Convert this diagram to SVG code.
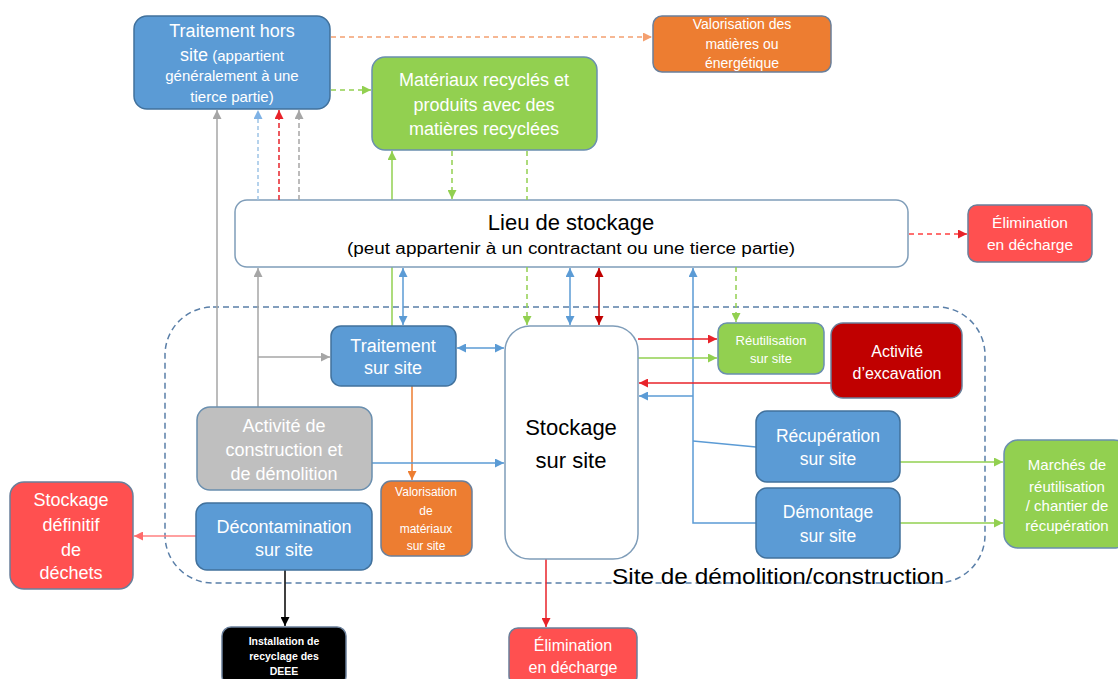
<svg xmlns="http://www.w3.org/2000/svg" width="1118" height="679" viewBox="0 0 1118 679">
<style>
text{font-family:"Liberation Sans","Open Sans",sans-serif;text-anchor:middle}
.w{fill:#fff}
.k{fill:#000}
.blue{fill:#5B9BD5;stroke:#41719C;stroke-width:1.5}
.green{fill:#92D050;stroke:#6A8FAF;stroke-width:1.5}
.orange{fill:#ED7D31;stroke:#6A7F9A;stroke-width:1.5}
.red{fill:#FF5050;stroke:#6A7F9A;stroke-width:1.5}
.dred{fill:#C00000;stroke:#6A7F9A;stroke-width:1.5}
.gray{fill:#BFBFBF;stroke:#6A8FAF;stroke-width:1.5}
.white{fill:#fff;stroke:#7F9DB9;stroke-width:1.5}
.blk{fill:#000;stroke:#6A7F9A;stroke-width:1.5}
.c{fill:none;stroke-width:1.5}
</style>
<defs>
<marker id="aBlue" viewBox="0 0 10 10" refX="10" refY="5" markerWidth="9" markerHeight="9" markerUnits="userSpaceOnUse" orient="auto-start-reverse"><path d="M0,0L10,5L0,10z" fill="#5B9BD5"/></marker>
<marker id="aLBlue" viewBox="0 0 10 10" refX="10" refY="5" markerWidth="9" markerHeight="9" markerUnits="userSpaceOnUse" orient="auto-start-reverse"><path d="M0,0L10,5L0,10z" fill="#7FB2E5"/></marker>
<marker id="aGreen" viewBox="0 0 10 10" refX="10" refY="5" markerWidth="9" markerHeight="9" markerUnits="userSpaceOnUse" orient="auto-start-reverse"><path d="M0,0L10,5L0,10z" fill="#92D050"/></marker>
<marker id="aRed" viewBox="0 0 10 10" refX="10" refY="5" markerWidth="9" markerHeight="9" markerUnits="userSpaceOnUse" orient="auto-start-reverse"><path d="M0,0L10,5L0,10z" fill="#E8232A"/></marker>
<marker id="aDRed" viewBox="0 0 10 10" refX="10" refY="5" markerWidth="9" markerHeight="9" markerUnits="userSpaceOnUse" orient="auto-start-reverse"><path d="M0,0L10,5L0,10z" fill="#C00000"/></marker>
<marker id="aPink" viewBox="0 0 10 10" refX="10" refY="5" markerWidth="9" markerHeight="9" markerUnits="userSpaceOnUse" orient="auto-start-reverse"><path d="M0,0L10,5L0,10z" fill="#FF6B6B"/></marker>
<marker id="aGray" viewBox="0 0 10 10" refX="10" refY="5" markerWidth="9" markerHeight="9" markerUnits="userSpaceOnUse" orient="auto-start-reverse"><path d="M0,0L10,5L0,10z" fill="#A6A6A6"/></marker>
<marker id="aOrange" viewBox="0 0 10 10" refX="10" refY="5" markerWidth="9" markerHeight="9" markerUnits="userSpaceOnUse" orient="auto-start-reverse"><path d="M0,0L10,5L0,10z" fill="#F4A070"/></marker>
<marker id="aOrange2" viewBox="0 0 10 10" refX="10" refY="5" markerWidth="9" markerHeight="9" markerUnits="userSpaceOnUse" orient="auto-start-reverse"><path d="M0,0L10,5L0,10z" fill="#ED7D31"/></marker>
<marker id="aBlack" viewBox="0 0 10 10" refX="10" refY="5" markerWidth="9" markerHeight="9" markerUnits="userSpaceOnUse" orient="auto-start-reverse"><path d="M0,0L10,5L0,10z" fill="#000"/></marker>
</defs>
<rect width="1118" height="679" fill="#fff"/>

<g id="site-boundary">
<rect x="165" y="307" width="820" height="276" rx="48" fill="none" stroke="#5A7FA8" stroke-width="1.5" stroke-dasharray="6 4"/>
<text x="612" y="584" font-size="22" class="k" style="text-anchor:start" textLength="332" lengthAdjust="spacingAndGlyphs">Site de démolition/construction</text>
</g>

<g id="connectors-under">
<line class="c" x1="392" y1="326" x2="392" y2="151" stroke="#92D050" marker-end="url(#aGreen)"/>
</g>

<g id="lieu-stockage">
<rect class="white" x="235" y="200" width="673" height="67" rx="12"/>
<text x="571" y="230" font-size="22" class="k">Lieu de stockage</text>
<text x="571" y="254" font-size="16" class="k" textLength="448" lengthAdjust="spacingAndGlyphs">(peut appartenir à un contractant ou une tierce partie)</text>
</g>

<g id="connectors">
<line class="c" x1="331" y1="37" x2="652" y2="37" stroke="#F4A070" stroke-dasharray="5 4" marker-end="url(#aOrange)"/>
<line class="c" x1="331" y1="90" x2="371" y2="90" stroke="#92D050" stroke-dasharray="5 4" marker-end="url(#aGreen)"/>
<line class="c" x1="217" y1="407" x2="217" y2="110" stroke="#A6A6A6" marker-end="url(#aGray)"/>
<line class="c" x1="258" y1="200" x2="258" y2="110" stroke="#9DC3E6" stroke-dasharray="4 3" marker-end="url(#aLBlue)"/>
<line class="c" x1="279" y1="200" x2="279" y2="110" stroke="#E8232A" stroke-dasharray="5 3" marker-end="url(#aRed)"/>
<line class="c" x1="299" y1="200" x2="299" y2="110" stroke="#A6A6A6" stroke-dasharray="5 3" marker-end="url(#aGray)"/>
<line class="c" x1="452" y1="151" x2="452" y2="199" stroke="#92D050" stroke-dasharray="5 4" marker-end="url(#aGreen)"/>
<line class="c" x1="527" y1="151" x2="527" y2="200" stroke="#92D050" stroke-dasharray="5 4"/>
<line class="c" x1="527" y1="267" x2="527" y2="325" stroke="#92D050" stroke-dasharray="5 4" marker-end="url(#aGreen)"/>
<line class="c" x1="909" y1="234" x2="967" y2="234" stroke="#FF4040" stroke-dasharray="5 4" marker-end="url(#aRed)"/>
<line class="c" x1="258" y1="407" x2="258" y2="268" stroke="#A6A6A6" marker-end="url(#aGray)"/>
<line class="c" x1="258" y1="357" x2="330" y2="357" stroke="#A6A6A6" marker-end="url(#aGray)"/>
<line class="c" x1="403" y1="268" x2="403" y2="325" stroke="#5B9BD5" marker-start="url(#aBlue)" marker-end="url(#aBlue)"/>
<line class="c" x1="570" y1="268" x2="570" y2="325" stroke="#5B9BD5" marker-start="url(#aBlue)" marker-end="url(#aBlue)"/>
<line class="c" x1="599" y1="268" x2="599" y2="325" stroke="#C00000" marker-start="url(#aDRed)" marker-end="url(#aDRed)"/>
<line class="c" x1="736" y1="267" x2="736" y2="322" stroke="#92D050" stroke-dasharray="5 4" marker-end="url(#aGreen)"/>
<path class="c" d="M756,523 L693,523 L693,268" stroke="#5B9BD5" marker-end="url(#aBlue)"/>
<line class="c" x1="693" y1="396" x2="639" y2="396" stroke="#5B9BD5" marker-end="url(#aBlue)"/>
<line class="c" x1="693" y1="441" x2="756" y2="447" stroke="#5B9BD5"/>
<line class="c" x1="638" y1="339" x2="717" y2="339" stroke="#E8232A" marker-end="url(#aRed)"/>
<line class="c" x1="638" y1="358" x2="717" y2="358" stroke="#92D050" marker-end="url(#aGreen)"/>
<line class="c" x1="831" y1="383" x2="639" y2="383" stroke="#E8232A" marker-end="url(#aRed)"/>
<line class="c" x1="457" y1="348" x2="504" y2="348" stroke="#5B9BD5" marker-start="url(#aBlue)" marker-end="url(#aBlue)"/>
<line class="c" x1="412" y1="386" x2="412" y2="480" stroke="#ED7D31" marker-end="url(#aOrange2)"/>
<line class="c" x1="372" y1="463" x2="504" y2="463" stroke="#5B9BD5" marker-end="url(#aBlue)"/>
<line class="c" x1="196" y1="536" x2="134" y2="536" stroke="#FF8080" marker-end="url(#aPink)"/>
<line class="c" x1="285" y1="570" x2="285" y2="626" stroke="#000" marker-end="url(#aBlack)"/>
<line class="c" x1="546" y1="559" x2="546" y2="627" stroke="#E8232A" marker-end="url(#aRed)"/>
<line class="c" x1="900" y1="462" x2="1003" y2="462" stroke="#92D050" marker-end="url(#aGreen)"/>
<line class="c" x1="900" y1="523" x2="1003" y2="523" stroke="#92D050" marker-end="url(#aGreen)"/>
</g>

<g id="traitement-hors-site">
<rect class="blue" x="134" y="16" width="196" height="93" rx="13"/>
<text class="w" x="232" y="37" font-size="18">Traitement hors</text>
<text class="w" x="232" y="61" font-size="15"><tspan font-size="18">site</tspan> (appartient</text>
<text class="w" x="232" y="81" font-size="15">généralement à une</text>
<text class="w" x="232" y="102" font-size="15">tierce partie)</text>
</g>

<g id="valorisation-matieres">
<rect class="orange" x="653" y="16" width="178" height="56" rx="9"/>
<text class="w" x="742" y="29" font-size="14">Valorisation des</text>
<text class="w" x="742" y="49" font-size="14">matières ou</text>
<text class="w" x="742" y="68" font-size="14">énergétique</text>
</g>

<g id="materiaux-recycles">
<rect class="green" x="372" y="57" width="225" height="93" rx="13"/>
<text class="w" x="484" y="86" font-size="18">Matériaux recyclés et</text>
<text class="w" x="484" y="111" font-size="18">produits avec des</text>
<text class="w" x="484" y="135" font-size="18">matières recyclées</text>
</g>

<g id="elimination-haut">
<rect class="red" x="968" y="205" width="124" height="57" rx="9"/>
<text class="w" x="1030" y="228" font-size="15.5">Élimination</text>
<text class="w" x="1030" y="250" font-size="15.5">en décharge</text>
</g>

<g id="traitement-sur-site">
<rect class="blue" x="331" y="326" width="125" height="60" rx="10"/>
<text class="w" x="393" y="352" font-size="18">Traitement</text>
<text class="w" x="393" y="374" font-size="18">sur site</text>
</g>

<g id="stockage-sur-site">
<rect class="white" x="505" y="326" width="133" height="233" rx="25"/>
<text class="k" x="571" y="435" font-size="22">Stockage</text>
<text class="k" x="571" y="468" font-size="22">sur site</text>
</g>

<g id="reutilisation-sur-site">
<rect class="green" x="718" y="323" width="106" height="51" rx="9"/>
<text class="w" x="771" y="345" font-size="13">Réutilisation</text>
<text class="w" x="771" y="363" font-size="13">sur site</text>
</g>

<g id="activite-excavation">
<rect class="dred" x="831" y="323" width="131" height="75" rx="12"/>
<text class="w" x="897" y="357" font-size="16">Activité</text>
<text class="w" x="897" y="379" font-size="16">d’excavation</text>
</g>

<g id="activite-construction">
<rect class="gray" x="197" y="407" width="175" height="83" rx="13"/>
<text class="w" x="284" y="432" font-size="18">Activité de</text>
<text class="w" x="284" y="456" font-size="18">construction et</text>
<text class="w" x="284" y="480" font-size="18">de démolition</text>
</g>

<g id="recuperation-sur-site">
<rect class="blue" x="756" y="411" width="144" height="71" rx="11"/>
<text class="w" x="828" y="442" font-size="17.5">Récupération</text>
<text class="w" x="828" y="465" font-size="17.5">sur site</text>
</g>

<g id="demontage-sur-site">
<rect class="blue" x="756" y="488" width="144" height="70" rx="11"/>
<text class="w" x="828" y="518" font-size="17.5">Démontage</text>
<text class="w" x="828" y="542" font-size="17.5">sur site</text>
</g>

<g id="valorisation-materiaux-site">
<rect class="orange" x="381" y="481" width="91" height="75" rx="10"/>
<text class="w" x="426" y="496" font-size="12">Valorisation</text>
<text class="w" x="426" y="515" font-size="12">de</text>
<text class="w" x="426" y="533" font-size="12">matériaux</text>
<text class="w" x="426" y="550" font-size="12">sur site</text>
</g>

<g id="decontamination-sur-site">
<rect class="blue" x="196" y="503" width="176" height="67" rx="11"/>
<text class="w" x="284" y="533" font-size="18">Décontamination</text>
<text class="w" x="284" y="556" font-size="18">sur site</text>
</g>

<g id="stockage-definitif">
<rect class="red" x="10" y="482" width="123" height="107" rx="14"/>
<text class="w" x="71" y="506" font-size="18">Stockage</text>
<text class="w" x="71" y="531" font-size="18">définitif</text>
<text class="w" x="71" y="556" font-size="18">de</text>
<text class="w" x="71" y="579" font-size="18">déchets</text>
</g>

<g id="marches-reutilisation">
<rect class="green" x="1004" y="440" width="124" height="108" rx="14"/>
<text class="w" x="1067" y="470" font-size="15">Marchés de</text>
<text class="w" x="1067" y="492" font-size="15">réutilisation</text>
<text class="w" x="1067" y="511" font-size="15">/ chantier de</text>
<text class="w" x="1067" y="531" font-size="15">récupération</text>
</g>

<g id="installation-deee">
<rect class="blk" x="222" y="627" width="124" height="58" rx="9"/>
<text class="w" x="284" y="645" font-size="10.5" font-weight="bold">Installation  de</text>
<text class="w" x="284" y="660" font-size="10.5" font-weight="bold">recyclage  des</text>
<text class="w" x="284" y="675" font-size="10.5" font-weight="bold">DEEE</text>
</g>

<g id="elimination-bas">
<rect class="red" x="509" y="628" width="128" height="57" rx="9"/>
<text class="w" x="573" y="651" font-size="16">Élimination</text>
<text class="w" x="573" y="673" font-size="16">en décharge</text>
</g>
</svg>
